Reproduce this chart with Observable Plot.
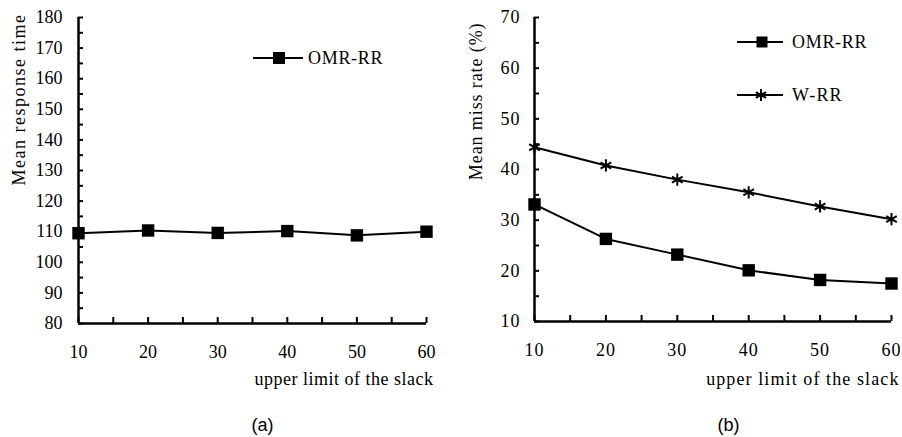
<!DOCTYPE html>
<html><head><meta charset="utf-8">
<script src="https://cdn.jsdelivr.net/npm/d3@7"></script>
<script src="https://cdn.jsdelivr.net/npm/@observablehq/plot@0.6"></script>
<style>
body{margin:0;background:#fff}
#wrap{display:flex;width:902px;height:437px;overflow:hidden}
svg text{font-family:"Liberation Serif","Tinos","Times New Roman","DejaVu Serif",serif}
svg text.sans{font-family:"Liberation Sans",Arial,sans-serif}
</style>
</head><body><div id="wrap"></div>
<script>
// ---- data ----
const slack = [10, 20, 30, 40, 50, 60];
const responseOMR = [109.5, 110.4, 109.6, 110.2, 108.8, 110.0];
const missOMR = [33.1, 26.3, 23.2, 20.1, 18.2, 17.5];
const missWRR = [44.4, 40.8, 38.0, 35.5, 32.7, 30.2];
const xTicks = [10, 15, 20, 25, 30, 35, 40, 45, 50, 55, 60];
const xLabels = [10, 20, 30, 40, 50, 60];
const yTicksA = [80, 85, 90, 95, 100, 105, 110, 115, 120, 125, 130, 135, 140, 145, 150, 155, 160, 165, 170, 175, 180];
const yLabelsA = [80, 90, 100, 110, 120, 130, 140, 150, 160, 170, 180];
const yTicksB = [10, 15, 20, 25, 30, 35, 40, 45, 50, 55, 60, 65, 70];
const yLabelsB = [10, 20, 30, 40, 50, 60, 70];

const serif = "Liberation Serif";

const tableA = slack.map((s, i) => ({slack: s, value: responseOMR[i]}));
const tableOMR = slack.map((s, i) => ({slack: s, value: missOMR[i]}));
const tableWRR = slack.map((s, i) => ({slack: s, value: missWRR[i]}));

function legendMark(items) {
  return () => {
    const g = d3.create("svg:g");
    for (const it of items) {
      g.append("line").attr("x1", it.x1).attr("x2", it.x2).attr("y1", it.y).attr("y2", it.y)
        .attr("stroke", "black").attr("stroke-width", 2);
      const sym = it.symbol === "square" ? d3.symbolSquare : d3.symbolAsterisk;
      g.append("path").attr("d", d3.symbol(sym, it.size)())
        .attr("transform", `translate(${it.cx},${it.y})`)
        .attr("fill", it.symbol === "square" ? "black" : "none")
        .attr("stroke", "black").attr("stroke-width", it.symbol === "square" ? 0 : 2);
      g.append("text").attr("x", it.tx).attr("y", it.y).attr("dy", "0.35em")
        .attr("text-anchor", "start")
        .attr("font-size", 18).attr("letter-spacing", it.ls)
        .attr("fill", "black").text(it.label);
    }
    return g.node();
  };
}

function fmt(labels) { return d => labels.includes(d) ? String(d) : ""; }

const chartA = Plot.plot({
  width: 451, height: 437,
  marginLeft: 78, marginRight: 25, marginTop: 17, marginBottom: 114,
  style: {fontFamily: serif, fontSize: "18px", color: "black", background: "white"},
  x: {domain: [10, 60]},
  y: {domain: [80, 180]},
  marks: [
    Plot.axisX({ticks: xTicks, tickSize: 6, dy: -6, strokeWidth: 2, tickPadding: 22, tickFormat: fmt(xLabels), label: null, fontSize: 18}),
    Plot.axisY({ticks: yTicksA, tickSize: 5, dx: 5, strokeWidth: 2, tickPadding: 16, tickFormat: fmt(yLabelsA), label: null, fontSize: 18}),
    Plot.ruleX([10], {strokeWidth: 2.5}),
    Plot.ruleY([80], {strokeWidth: 2.5}),
    Plot.line(tableA, {x: "slack", y: "value", stroke: "black", strokeWidth: 2}),
    Plot.dot(tableA, {x: "slack", y: "value", symbol: "square", r: 7, fill: "black"}),
    Plot.text(["Mean response time"], {text: d => d, frameAnchor: "top-left", rotate: -90, textAnchor: "end", lineAnchor: "middle", dx: -59.5, dy: -4, fontSize: 18}),
    Plot.text(["upper limit of the slack"], {text: d => d, frameAnchor: "bottom-right", textAnchor: "end", lineAnchor: "middle", dx: 7, dy: 56, fontSize: 18}),
    Plot.text(["(a)"], {text: d => d, frameAnchor: "bottom", lineAnchor: "middle", dx: 10, dy: 102, fontSize: 18}),
    legendMark([{label: "OMR-RR", symbol: "square", size: 144, x1: 253, x2: 303, cx: 279, y: 58, tx: 308, ls: 0.7}])
  ]
});

const chartB = Plot.plot({
  width: 451, height: 437,
  marginLeft: 83, marginRight: 11, marginTop: 17, marginBottom: 116,
  style: {fontFamily: serif, fontSize: "18px", color: "black", background: "white"},
  x: {domain: [10, 60]},
  y: {domain: [10, 70]},
  marks: [
    Plot.axisX({ticks: xTicks, tickSize: 6, dy: -6, strokeWidth: 2, tickPadding: 22, tickFormat: fmt(xLabels), label: null, fontSize: 18}),
    Plot.axisY({ticks: yTicksB, tickSize: 5, dx: 5, strokeWidth: 2, tickPadding: 14, tickFormat: fmt(yLabelsB), label: null, fontSize: 18}),
    Plot.ruleX([10], {strokeWidth: 2.5}),
    Plot.ruleY([10], {strokeWidth: 2.5}),
    Plot.line(tableWRR, {x: "slack", y: "value", stroke: "black", strokeWidth: 2}),
    Plot.dot(tableWRR, {x: "slack", y: "value", symbol: "asterisk", r: 5.8, stroke: "black", strokeWidth: 2}),
    Plot.line(tableOMR, {x: "slack", y: "value", stroke: "black", strokeWidth: 2}),
    Plot.dot(tableOMR, {x: "slack", y: "value", symbol: "square", r: 7, fill: "black"}),
    Plot.text(["Mean miss rate (%)"], {text: d => d, frameAnchor: "top-left", rotate: -90, textAnchor: "end", lineAnchor: "middle", dx: -58, dy: 5, fontSize: 18}),
    Plot.text(["upper limit of the slack"], {text: d => d, frameAnchor: "bottom-right", textAnchor: "end", lineAnchor: "middle", dx: 8, dy: 58, fontSize: 18}),
    Plot.text(["(b)"], {text: d => d, frameAnchor: "bottom", lineAnchor: "middle", dx: 15.5, dy: 104, fontSize: 18}),
    legendMark([
      {label: "OMR-RR", symbol: "square", size: 121, x1: 286, x2: 332, cx: 311, y: 42, tx: 341, ls: 0.7},
      {label: "W-RR", symbol: "asterisk", size: 100, x1: 286, x2: 332, cx: 310, y: 95, tx: 341, ls: 1.2}
    ])
  ]
});

const spacing = (svg, map) => d3.select(svg).selectAll("text").each(function() {
  const t = this.textContent;
  if (map[t] != null && this.childElementCount === 0) this.setAttribute("letter-spacing", map[t]);
  if (t === "(a)" || t === "(b)") this.setAttribute("class", "sans");
});
spacing(chartA, {"Mean response time": 1.5, "upper limit of the slack": 0.5});
spacing(chartB, {"Mean miss rate (%)": 0.9, "upper limit of the slack": 1.1});
d3.select(chartB).selectAll("g[aria-label='y-axis tick label'] text, g[aria-label='x-axis tick label'] text").attr("letter-spacing", 1);

document.getElementById("wrap").append(chartA, chartB);
</script>
</body></html>
